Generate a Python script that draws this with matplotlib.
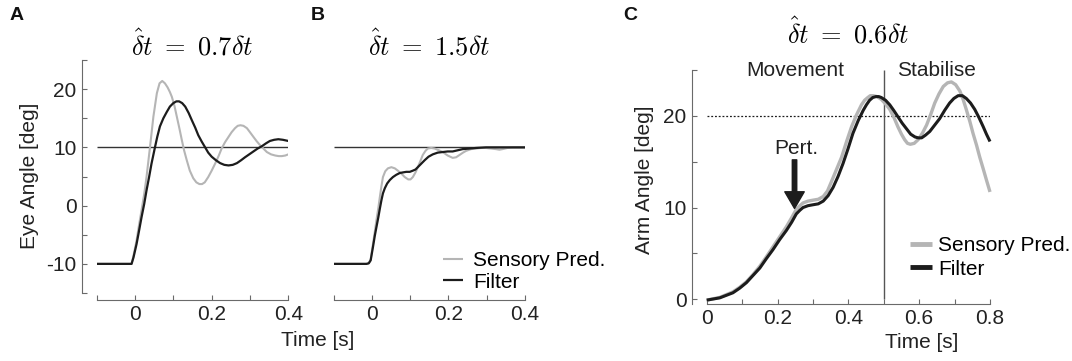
"""Eye / arm angle responses: sensory prediction vs filter (three panels)."""

import matplotlib
matplotlib.use("Agg")
import matplotlib.pyplot as plt  # noqa: E402

plt.rcParams["font.family"] = ["Liberation Sans", "DejaVu Sans"]
plt.rcParams["mathtext.fontset"] = "cm"
plt.rcParams["axes.unicode_minus"] = False
plt.rcParams["lines.solid_joinstyle"] = "round"
plt.rcParams["lines.solid_capstyle"] = "butt"

# ---- panel A: dt_hat = 0.7 dt ------------------------------------------------
a_sens_t = [-0.1, -0.009, -0.004, 0.004, 0.010, 0.017, 0.024, 0.030, 0.039, 0.048,
            0.057, 0.064, 0.071, 0.078, 0.085, 0.091, 0.096, 0.103, 0.109, 0.116,
            0.122, 0.128, 0.135, 0.143, 0.152, 0.160, 0.168, 0.175, 0.182, 0.191,
            0.200, 0.209, 0.218, 0.226, 0.235, 0.244, 0.252, 0.261, 0.268, 0.275,
            0.283, 0.292, 0.300, 0.309, 0.317, 0.326, 0.335, 0.344, 0.355, 0.366,
            0.375, 0.383, 0.392, 0.4]
a_sens_y = [-10, -10, -8.6, -6.0, -3.5, -0.8, 2.0, 4.9, 10.0, 15.3,
            19.3, 21.0, 21.4, 21.0, 20.3, 19.5, 18.7, 17.1, 15.3, 13.2,
            11.3, 9.5, 7.8, 6.0, 4.7, 4.0, 3.7, 3.7, 4.0, 4.9,
            6.0, 7.2, 8.5, 9.8, 10.9, 11.8, 12.6, 13.3, 13.7, 13.8,
            13.7, 13.3, 12.6, 11.8, 11.1, 10.4, 9.8, 9.2, 8.8, 8.6,
            8.5, 8.5, 8.6, 8.8]
a_filt_t = [-0.1, -0.009, -0.004, 0.004, 0.010, 0.017, 0.024, 0.030, 0.037, 0.043,
            0.052, 0.058, 0.065, 0.074, 0.083, 0.091, 0.100, 0.108, 0.115, 0.123,
            0.131, 0.140, 0.148, 0.157, 0.165, 0.174, 0.183, 0.191, 0.200, 0.211,
            0.222, 0.233, 0.244, 0.255, 0.266, 0.277, 0.287, 0.298, 0.309, 0.320,
            0.331, 0.342, 0.352, 0.363, 0.374, 0.386, 0.4]
a_filt_y = [-10, -10, -8.9, -6.6, -4.5, -2.0, 0.3, 2.6, 5.0, 7.2,
            10.0, 11.8, 13.6, 15.0, 16.1, 17.0, 17.6, 17.9, 17.9, 17.6,
            17.0, 15.9, 14.7, 13.4, 12.1, 11.0, 10.0, 9.1, 8.4, 7.8,
            7.3, 7.0, 6.9, 7.0, 7.3, 7.8, 8.3, 8.8, 9.3, 9.8,
            10.2, 10.7, 11.1, 11.3, 11.4, 11.3, 11.1]

# ---- panel B: dt_hat = 1.5 dt ------------------------------------------------
b_sens_t = [-0.1, -0.014, -0.008, -0.003, 0.003, 0.008, 0.012, 0.017, 0.021, 0.025,
            0.029, 0.035, 0.042, 0.051, 0.060, 0.068, 0.077, 0.086, 0.095, 0.101,
            0.107, 0.114, 0.120, 0.127, 0.133, 0.140, 0.146, 0.155, 0.164, 0.175,
            0.185, 0.198, 0.211, 0.220, 0.229, 0.238, 0.246, 0.259, 0.272, 0.285,
            0.298, 0.311, 0.324, 0.333, 0.341, 0.354, 0.367, 0.4]
b_sens_y = [-10, -10, -9.9, -9.2, -6.6, -4.4, -2.5, -0.4, 1.5, 3.3,
            4.9, 5.9, 6.4, 6.6, 6.4, 6.0, 5.5, 4.9, 4.5, 4.5,
            4.9, 5.7, 6.6, 7.7, 8.7, 9.4, 9.8, 9.9, 9.8, 9.5,
            9.2, 8.6, 8.2, 8.3, 8.7, 9.1, 9.4, 9.7, 9.8, 9.9,
            9.9, 9.8, 9.7, 9.6, 9.7, 9.9, 10.0, 10.0]
b_filt_t = [-0.1, -0.014, -0.008, -0.003, 0.003, 0.008, 0.012, 0.017, 0.021, 0.025,
            0.029, 0.034, 0.040, 0.047, 0.055, 0.064, 0.073, 0.081, 0.090, 0.099,
            0.107, 0.114, 0.120, 0.129, 0.138, 0.148, 0.159, 0.172, 0.185, 0.198,
            0.211, 0.224, 0.237, 0.255, 0.272, 0.298, 0.4]
b_filt_y = [-10, -10, -9.9, -9.4, -7.1, -5.1, -3.7, -2.0, -0.5, 0.9,
            2.1, 3.0, 3.8, 4.4, 4.9, 5.3, 5.6, 5.7, 5.8, 5.8,
            6.0, 6.2, 6.6, 7.2, 7.8, 8.4, 8.8, 9.1, 9.2, 9.3,
            9.3, 9.5, 9.7, 9.8, 9.9, 10.0, 10.0]

target_ab = 10      # eye target [deg]

# ---- panel C: dt_hat = 0.6 dt ------------------------------------------------
c_sens_t = [0, 0.037, 0.074, 0.093, 0.112, 0.131, 0.150, 0.168, 0.187, 0.206,
            0.225, 0.240, 0.253, 0.263, 0.272, 0.286, 0.300, 0.315, 0.329, 0.341,
            0.352, 0.366, 0.381, 0.395, 0.409, 0.423, 0.437, 0.446, 0.455, 0.462,
            0.470, 0.481, 0.493, 0.505, 0.517, 0.529, 0.540, 0.550, 0.559, 0.567,
            0.575, 0.586, 0.597, 0.609, 0.621, 0.633, 0.644, 0.656, 0.668, 0.680,
            0.691, 0.703, 0.715, 0.724, 0.733, 0.743, 0.752, 0.762, 0.771, 0.781,
            0.790, 0.8]
c_sens_y = [-0.1, 0.2, 0.8, 1.3, 1.9, 2.7, 3.6, 4.6, 5.7, 6.8,
            7.9, 8.9, 9.8, 10.2, 10.5, 10.7, 10.8, 10.9, 11.2, 11.8,
            12.8, 14.1, 15.5, 17.2, 18.8, 20.1, 21.2, 21.7, 22.0, 22.2,
            22.2, 22.1, 21.8, 21.3, 20.7, 19.8, 18.8, 18.0, 17.4, 17.0,
            16.9, 17.0, 17.4, 18.1, 19.0, 20.2, 21.4, 22.4, 23.2, 23.6,
            23.7, 23.4, 22.7, 21.8, 20.7, 19.4, 18.1, 16.8, 15.5, 14.2,
            13.0, 11.7]
c_filt_t = [0, 0.037, 0.074, 0.093, 0.112, 0.131, 0.150, 0.168, 0.187, 0.206,
            0.225, 0.240, 0.253, 0.263, 0.272, 0.286, 0.300, 0.315, 0.329, 0.343,
            0.357, 0.371, 0.385, 0.399, 0.413, 0.428, 0.442, 0.451, 0.460, 0.469,
            0.478, 0.486, 0.493, 0.505, 0.517, 0.528, 0.540, 0.552, 0.564, 0.576,
            0.588, 0.597, 0.607, 0.618, 0.630, 0.644, 0.658, 0.672, 0.686, 0.698,
            0.710, 0.722, 0.733, 0.745, 0.757, 0.769, 0.781, 0.790, 0.8]
c_filt_y = [-0.1, 0.15, 0.7, 1.2, 1.8, 2.6, 3.4, 4.4, 5.4, 6.5,
            7.5, 8.4, 9.3, 9.7, 10.0, 10.2, 10.3, 10.4, 10.7, 11.3,
            12.2, 13.4, 14.8, 16.4, 18.1, 19.5, 20.6, 21.2, 21.7, 22.0,
            22.1, 22.1, 22.0, 21.7, 21.2, 20.6, 19.9, 19.2, 18.6, 18.0,
            17.7, 17.6, 17.6, 17.9, 18.3, 19.0, 19.7, 20.6, 21.4, 21.9,
            22.2, 22.2, 21.9, 21.4, 20.7, 19.8, 18.8, 18.0, 17.2]

target_c = 20       # arm target [deg]
phase_split = 0.5   # movement -> stabilise
pert_t, pert_y0, pert_y1 = 0.248, 15.2, 9.9

GREY = "#b5b5b5"
BLACK = "#1c1c1c"
SPINE = "#6a6a6a"
TXT = "#222222"
FS = 15

W, H = 1072, 361
fig = plt.figure(figsize=(W / 100, H / 100), dpi=100)


def px_axes(x0, y0, x1, y1):
    """axes from pixel box (top-left origin)"""
    return fig.add_axes([x0 / W, 1 - y1 / H, (x1 - x0) / W, (y1 - y0) / H])


def style(ax, left=True, left_off=0, bottom_off=0):
    for sp in ("top", "right"):
        ax.spines[sp].set_visible(False)
    ax.spines["bottom"].set_position(("outward", bottom_off))
    ax.spines["bottom"].set_color(SPINE)
    if left:
        ax.spines["left"].set_position(("outward", left_off))
        ax.spines["left"].set_color(SPINE)
    else:
        ax.spines["left"].set_visible(False)
        ax.set_yticks([])
    ax.tick_params(direction="in", length=3.5, width=0.8, color=SPINE,
                   labelsize=FS, labelcolor=TXT, pad=4)
    ax.patch.set_visible(False)


def ticks(ax, vals, labelled, axis="x", fmt="{:g}"):
    labs = [fmt.format(v) if v in labelled else "" for v in vals]
    if axis == "x":
        ax.set_xticks(vals)
        ax.set_xticklabels(labs)
    else:
        ax.set_yticks(vals)
        ax.set_yticklabels(labs)


# A
axA = px_axes(96.7, 60, 288.3, 293)
axA.plot([-0.1, 0.4], [target_ab, target_ab], color="#333333", lw=1.0)
axA.plot(a_sens_t, a_sens_y, color=GREY, lw=1.5)
axA.plot(a_filt_t, a_filt_y, color=BLACK, lw=1.6)
axA.set_xlim(-0.1, 0.4)
axA.set_ylim(-15, 25)
style(axA, left_off=10.6, bottom_off=5)
ticks(axA, [-0.1, 0, 0.1, 0.2, 0.3, 0.4], [0, 0.2, 0.4])
ticks(axA, [-15, -10, -5, 0, 5, 10, 15, 20, 25], [-10, 0, 10, 20], axis="y")
axA.set_title(r"$\hat{\delta} t\ =\ 0.7\delta t$", fontsize=19, pad=1.5)

# B
axB = px_axes(333.5, 60, 525.1, 293)
axB.plot([-0.1, 0.4], [target_ab, target_ab], color="#333333", lw=1.0)
axB.plot(b_sens_t, b_sens_y, color=GREY, lw=1.5, label="Sensory Pred.")
axB.plot(b_filt_t, b_filt_y, color=BLACK, lw=1.6, label="Filter")
axB.set_xlim(-0.1, 0.4)
axB.set_ylim(-15, 25)
style(axB, left=False, bottom_off=5)
ticks(axB, [-0.1, 0, 0.1, 0.2, 0.3, 0.4], [0, 0.2, 0.4])
axB.set_title(r"$\hat{\delta} t\ =\ 1.5\delta t$", fontsize=19, pad=1.5)
axB.legend(loc="upper left", bbox_to_anchor=(443 / W, 1 - 251 / H),
           bbox_transform=fig.transFigure, frameon=False, fontsize=FS,
           borderpad=0, borderaxespad=0, handlelength=0.96, handletextpad=0.48,
           labelspacing=0.13)

# C
axC = px_axes(706.7, 70, 990, 303.8)
axC.plot([0, 0.8], [target_c, target_c], color=BLACK, lw=0.9, ls=(0, (1.5, 1.5)))
axC.plot([phase_split, phase_split], [0, 25], color="#555555", lw=1.0)
axC.plot(c_sens_t, c_sens_y, color=GREY, lw=2.4, label="Sensory Pred.", clip_on=False)
axC.plot(c_filt_t, c_filt_y, color=BLACK, lw=2.2, label="Filter", clip_on=False)
axC.set_xlim(0, 0.8)
axC.set_ylim(-0.5, 25)
style(axC, left_off=10.4, bottom_off=0)
ticks(axC, [0, 0.1, 0.2, 0.3, 0.4, 0.5, 0.6, 0.7, 0.8], [0, 0.2, 0.4, 0.6, 0.8])
ticks(axC, [0, 5, 10, 15, 20, 25], [0, 10, 20], axis="y")
axC.set_title(r"$\hat{\delta} t\ =\ 0.6\delta t$", fontsize=19, pad=19)
axC.text(0.25, 24.9, "Movement", ha="center", va="center", fontsize=FS, color=TXT)
axC.text(0.65, 24.9, "Stabilise", ha="center", va="center", fontsize=FS, color=TXT)
axC.text(0.254, 16.4, "Pert.", ha="center", va="center", fontsize=FS, color=TXT)
axC.annotate("", xy=(pert_t, pert_y1), xytext=(pert_t, pert_y0),
             arrowprops=dict(width=3.2, headwidth=14, headlength=12,
                             color=BLACK, shrink=0))
leg = axC.legend(loc="upper left", bbox_to_anchor=(910 / W, 1 - 236 / H),
                 bbox_transform=fig.transFigure, frameon=False, fontsize=FS,
                 borderpad=0, borderaxespad=0, handlelength=1.05,
                 handletextpad=0.3, labelspacing=0.23)
for ln in leg.get_lines():
    ln.set_linewidth(3.5)

# axis labels, panel letters
fig.text(30 / W, 1 - 176 / H, "Eye Angle [deg]", rotation=90, ha="center",
         va="center", fontsize=FS, color=TXT)
fig.text(645 / W, 1 - 180 / H, "Arm Angle [deg]", rotation=90, ha="center",
         va="center", fontsize=FS, color=TXT)
fig.text(318 / W, 1 - 340 / H, "Time [s]", ha="center", va="center",
         fontsize=FS, color=TXT)
fig.text(922 / W, 1 - 343 / H, "Time [s]", ha="center", va="center",
         fontsize=FS, color=TXT)
for lab, x in (("A", 17), ("B", 318), ("C", 630)):
    fig.text(x / W, 1 - 15 / H, lab, ha="center", va="center", fontsize=14,
             fontweight="bold", color="#111111")

fig.savefig("out.png", dpi=100)
